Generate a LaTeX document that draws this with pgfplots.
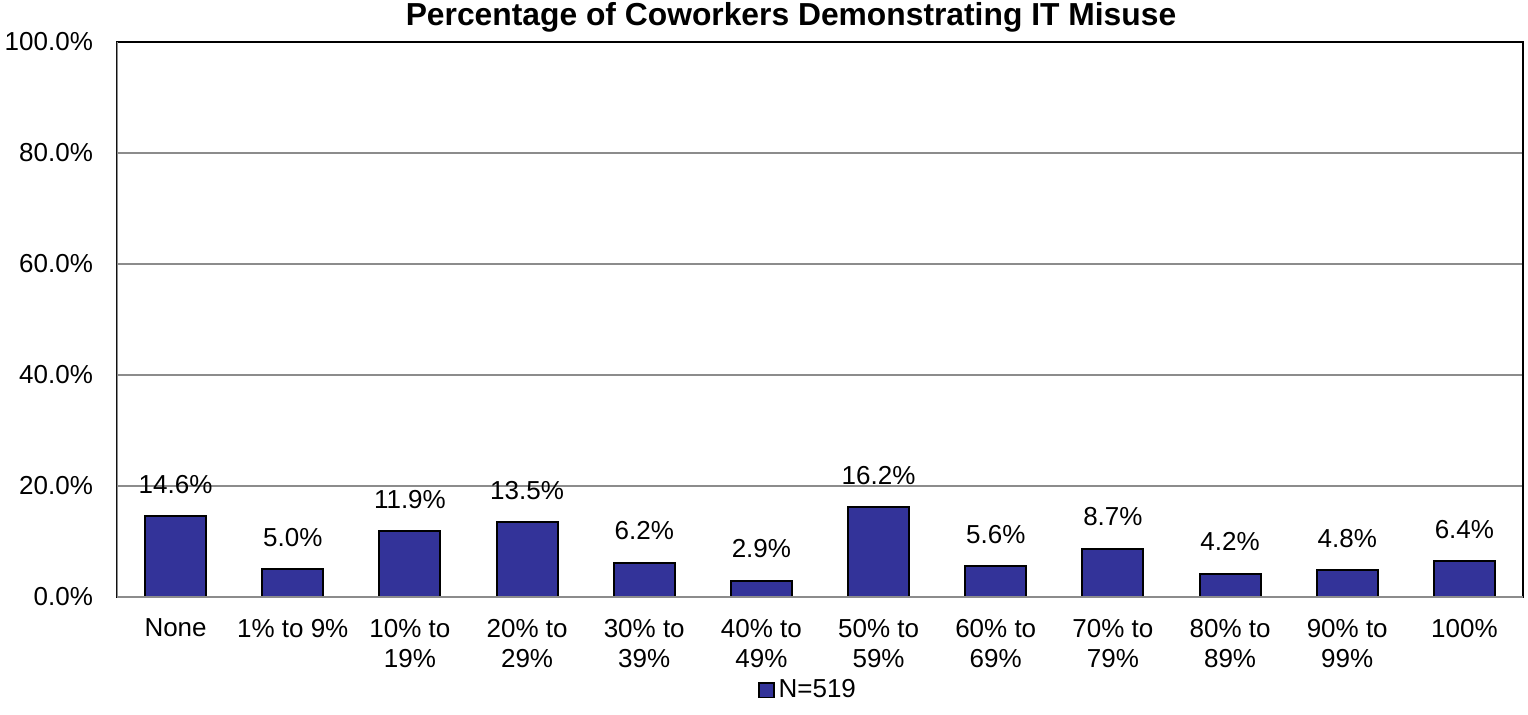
\documentclass[border=0pt]{standalone}
\usepackage{pgfplots}
\pgfplotsset{compat=1.18}
\usepackage{fontspec}
\setmainfont{Liberation Sans}
\definecolor{barblue}{RGB}{51,51,153}
\definecolor{gridgray}{RGB}{140,140,140}
\begin{document}
\begin{tikzpicture}
\path[use as bounding box] (-58.5pt,-58.5pt) rectangle (705.5pt,298.5pt);
\begin{axis}[
  scale only axis,
  width=703pt, height=277.5pt,
  xmin=-0.5, xmax=11.5,
  ymin=0, ymax=100,
  ytick={0,20,40,60,80,100},
  yticklabels={0.0\%,20.0\%,40.0\%,60.0\%,80.0\%,100.0\%},
  xtick={0,...,11},
  xticklabels={None,1\% to 9\%,10\% to\\19\%,20\% to\\29\%,30\% to\\39\%,40\% to\\49\%,50\% to\\59\%,60\% to\\69\%,70\% to\\79\%,80\% to\\89\%,90\% to\\99\%,100\%},
  xticklabel style={align=center, font=\fontsize{13pt}{15pt}\selectfont, yshift=-7.5pt},
  yticklabel style={font=\fontsize{13pt}{15pt}\selectfont, xshift=-8.5pt},
  major tick length=0pt,
  ymajorgrids,
  grid style={gridgray, line width=0.8pt},
  axis line style={black, line width=1pt},
  every axis title shift=0pt,
  title={Percentage of Coworkers Demonstrating IT Misuse},
  title style={font=\bfseries\fontsize{15.9pt}{18pt}\selectfont, at={(0.5,1)}, anchor=base, yshift=8.5pt, xshift=-14.5pt},
  legend style={draw=none, at={(0.5,-0.168)}, anchor=center, xshift=-5.5pt, font=\fontsize{13pt}{15pt}\selectfont, inner sep=1pt},
  legend image code/.code={\draw[#1, fill=barblue, draw=black, line width=0.8pt] (1pt,-3.7pt) rectangle (8.5pt,3.7pt);},
  nodes near coords={\pgfmathprintnumber[fixed, fixed zerofill, precision=1, assume math mode=true]{\pgfplotspointmeta}\%},
  nodes near coords style={font=\fontsize{13pt}{15pt}\selectfont, yshift=7.5pt},
]
\addplot[ybar, bar width=0.52, fill=barblue, draw=black, line width=1pt] coordinates {
(0,14.6) (1,5.0) (2,11.9) (3,13.5) (4,6.2) (5,2.9) (6,16.2) (7,5.6) (8,8.7) (9,4.2) (10,4.8) (11,6.4)
};
\addlegendentry{N=519}
\draw[gridgray, line width=1pt] (rel axis cs:0,0) -- (rel axis cs:0,1);
\draw[gridgray, line width=1pt] (rel axis cs:0,0) -- (rel axis cs:1,0);
\end{axis}
\end{tikzpicture}
\end{document}
